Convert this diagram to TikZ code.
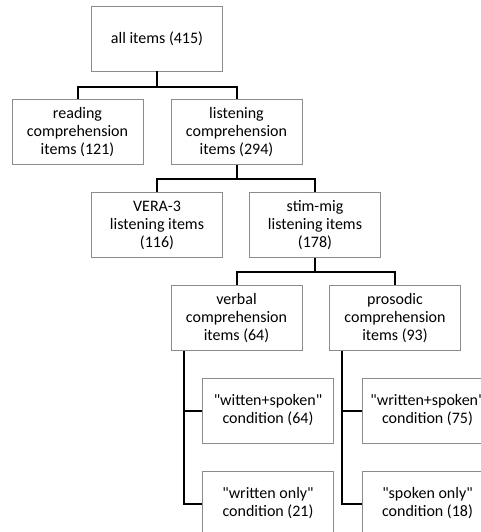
\documentclass[tikz,border=0pt]{standalone}
\usepackage{fontspec}
\setmainfont{Carlito}[Ligatures=TeXOff]
\usetikzlibrary{positioning, calc}
\definecolor{boxgray}{HTML}{8C8C8C}

\begin{document}
\begin{tikzpicture}[
  x=1pt, y=-1pt,
  every node/.style={font=\fontsize{16}{18}\selectfont},
  itembox/.style={rectangle, draw=boxgray, line width=0.9pt, fill=white, minimum width=131pt, minimum height=65pt, align=center, inner sep=2pt},
  branch/.style={draw=black, line width=2pt},
]
\useasboundingbox (0,0) rectangle (481,532);
\clip (0,0) rectangle (481,532);

\node[itembox] (all) at (157, 38.5) {all items (415)};
\node[itembox] (reading) at (77.5, 132) {reading\\comprehension\\items (121)};
\node[itembox] (listening) at (236.5, 132) {listening\\comprehension\\items (294)};
\node[itembox] (vera) at (157, 225) {VERA-3\\listening items\\(116)};
\node[itembox] (stimmig) at (315, 225) {stim-mig\\listening items\\(178)};
\node[itembox] (verbal) at (236.5, 318) {verbal\\comprehension\\items (64)};
\node[itembox] (prosodic) at (395, 318) {prosodic\\comprehension\\items (93)};
\node[itembox] (vws) at (268, 410.5) {"witten+spoken"\\condition (64)};
\node[itembox] (vwo) at (268, 503.5) {"written only"\\condition (21)};
\node[itembox] (pws) at (427.5, 410.5) {"written+spoken"\\condition (75)};
\node[itembox] (pso) at (427.5, 503.5) {"spoken only"\\condition (18)};

% tree connectors
\draw[branch] (all.south) -- ++(0,16) -| (reading.north);
\draw[branch] (all.south) -- ++(0,16) -| (listening.north);
\draw[branch] (listening.south) -- ++(0,14) -| (vera.north);
\draw[branch] (listening.south) -- ++(0,14) -| (stimmig.north);
\draw[branch] (stimmig.south) -- ++(0,14) -| (verbal.north);
\draw[branch] (stimmig.south) -- ++(0,14) -| (prosodic.north);

% side spines for the conditions
\draw[branch] ([xshift=13pt]verbal.south west) |- (vws.west);
\draw[branch] ([xshift=13pt]verbal.south west) |- (vwo.west);
\draw[branch] ([xshift=13pt]prosodic.south west) |- (pws.west);
\draw[branch] ([xshift=13pt]prosodic.south west) |- (pso.west);

\end{tikzpicture}
\end{document}
